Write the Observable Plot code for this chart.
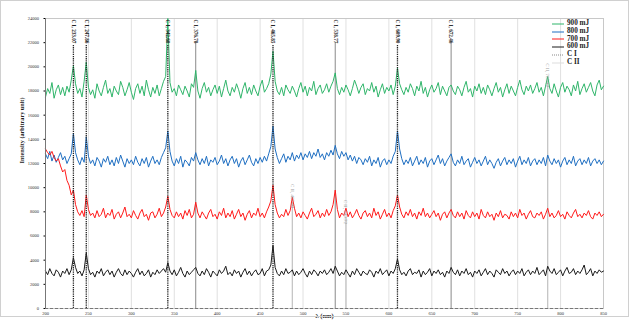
<!DOCTYPE html>
<html><head><meta charset="utf-8">
<script src="https://cdn.jsdelivr.net/npm/d3@7"></script>
<script src="https://cdn.jsdelivr.net/npm/@observablehq/plot@0.6"></script>
<style>
body{margin:0;background:#fff;}
#wrap{position:relative;width:631px;height:322px;overflow:hidden;}
#legend{position:absolute;left:552px;top:20px;font:bold 7.2px "Liberation Serif",serif;color:#222;line-height:7.8px;}
#legend div{display:flex;align-items:center;height:7.8px;}
#legend svg{margin-right:3px;}
</style>
</head><body>
<div id="wrap"><div id="legend"></div></div>
<script>
const xTicks = [200,250,300,350,400,450,500,550,600,650,700,750,800,850];
const yTicks = [0,2000,4000,6000,8000,10000,12000,14000,16000,18000,20000,22000,24000];
// wavelength grid (nm), 2.5 nm step, 261 samples
const wl = d3.range(200, 850.1, 2.5);

const s900 = [17500,18200,17800,18700,17400,18100,18500,17700,18300,17600,
18400,17900,18900,20100,18600,17800,18200,17500,18800,20400,
18300,17700,18100,17400,18600,18000,17600,18300,18900,17800,
18200,17500,18400,18000,17700,18800,18300,17600,18100,18700,
17900,17300,18200,18600,17800,18400,17600,18900,18100,17500,
18300,17800,18500,17600,18200,18800,19200,24000,18700,17900,
18200,17600,18500,18100,17700,18400,18000,17500,18600,18300,
19700,18000,17400,18200,18700,17900,18300,17600,18100,18500,
17800,18400,17500,18200,18900,18000,17600,18300,17900,18600,
18100,17400,18200,18700,17800,18300,17700,18500,18000,17600,
18400,18900,17900,18200,18600,19400,21300,18800,18000,17700,
18300,17600,18500,18100,17800,18400,18000,17500,18200,18700,
17900,18400,17600,18300,18000,18800,17700,18200,18500,17800,
18100,18600,17900,18400,18800,19500,18200,17700,18300,17900,
18500,18100,17600,18200,18900,18400,17800,18300,18600,17700,
18200,18000,18700,17900,18400,17500,18100,18600,17800,18300,
18000,18500,17700,18400,19900,18600,18100,17700,18300,17900,
18600,18200,17600,18400,18000,18800,17800,18300,17500,18100,
18500,17900,18200,18700,17700,18400,18000,17600,18300,18500,
18000,17700,18400,18100,17600,18300,18800,17900,18200,17500,
18400,18000,18600,17800,18300,17700,18500,18100,17600,18200,
18700,17900,18300,17500,18100,18600,17800,18400,18000,17600,
18300,18900,18100,17700,18400,18000,18500,17800,18200,18700,
17900,18300,17600,18400,19200,18200,17800,18600,18000,17500,
18300,18700,17900,18400,18100,17600,18500,18000,18800,17700,
18200,18600,17900,18300,18700,18000,17600,18500,18900,18100,
18400];

const s800 = [12800,12400,13000,12200,12700,12100,12500,12900,12300,12600,
12000,12400,12800,14500,12900,12300,11900,12500,12100,14200,
12600,12000,12300,11800,12500,12200,11700,12400,12100,12600,
11900,12300,11800,12500,12000,12700,12200,11700,12400,12000,
12300,11900,12600,12100,11800,12400,12000,12500,11700,12200,
12600,12000,12300,11900,12500,12900,13300,14700,13000,12200,
11800,12400,12000,12600,11700,12300,12100,11800,12500,12200,
12900,12300,11900,12400,12000,12600,11800,12300,12100,12500,
11900,12200,12700,12000,12400,11800,12300,12600,12000,12400,
11700,12200,12500,11900,12300,12700,12100,11800,12400,12000,
12500,12100,12600,12200,12800,13400,15100,13200,12500,12000,
12400,12800,12100,12600,12300,12900,12200,12700,12400,12900,
12300,12800,12500,13000,12400,12900,12600,13200,12500,12800,
12300,12900,12600,13100,12700,13500,12800,12400,13000,12600,
12900,12300,12700,12200,12600,12000,12500,12300,11900,12400,
12100,12600,11800,12300,12000,12500,11700,12200,12400,11900,
12300,12000,12600,13000,14700,13200,12400,11900,12300,12000,
12500,11800,12200,12600,11900,12300,12000,12500,11700,12200,
12400,11900,12300,12700,12000,12400,11800,12200,12500,12800,
12100,11800,12300,12000,12600,11900,12200,12400,11700,12100,
12500,12000,12300,11800,12200,12600,11900,12300,12000,11600,
12100,12400,11800,12200,12500,11900,12300,12000,12400,11700,
12200,12600,11900,12300,12000,12500,11800,12200,12400,11900,
12300,12000,12500,11800,12700,12200,11900,12400,12000,12300,
11700,12200,12500,11900,12300,12000,12600,11800,12200,12400,
11900,12300,12000,12500,11800,12200,12400,12000,12300,11900,
12200];

const s700 = [13200,12900,12700,13000,12500,12200,12400,11800,11300,11500,
10600,10200,9400,9800,8600,8000,7700,8100,7600,9400,
8200,7700,7900,7500,8100,7600,7800,8300,7500,7900,
7700,8200,7400,7800,8000,7500,7900,8400,7600,7800,
7500,8100,7700,7400,7900,8200,7600,7800,7300,7900,
8000,7500,7800,8300,7600,7900,8400,9300,8200,7700,
7500,8000,7600,7900,7400,8100,7700,8200,7500,7800,
8800,7900,7500,8000,7700,7400,7900,8200,7600,7800,
7400,8000,7700,8300,7500,7900,7600,8100,7400,7800,
8200,7600,7900,7300,7800,8100,7500,7900,7700,8300,
7600,7900,7500,8000,8400,8900,10200,8600,7900,7500,
7800,7600,8200,7700,8100,9200,8300,7600,7900,7500,
8000,7700,7400,7900,8300,7600,7800,8100,7500,7900,
7600,8200,7700,8000,8600,9800,8200,7500,7900,7700,
8300,7600,8000,7500,7800,8200,7700,7400,7900,8100,
7600,7900,7500,8300,7700,8000,7400,7800,8200,7600,
7900,7500,8100,8500,9400,8400,7800,7500,8000,7700,
8200,7600,7900,7400,8000,7700,8300,7600,7900,7500,
7800,8100,7600,7900,7300,7800,8000,7500,7900,8200,
7700,7500,8000,7600,7900,7400,8100,7700,7500,8000,
7600,7900,7400,8200,7700,7500,8000,7600,7800,7300,
7900,7600,8100,7500,7800,7700,7400,8000,7600,7900,
7500,8200,7700,7900,7400,7800,8100,7600,7500,7900,
7700,8000,7400,7800,8300,7600,7900,7500,7700,8100,
7600,7800,7400,8000,7700,7500,7900,8200,7600,7800,
7500,7900,7700,8100,7600,7400,7900,7700,8000,7600,
7800];

const s600 = [3100,2800,3300,2900,2700,3200,3000,2600,3100,2900,
3300,2800,3200,4200,3400,2900,3100,2700,3200,4600,
3300,2800,3000,2600,3100,2900,3300,2700,3000,3200,
2800,3100,2600,3000,3300,2900,2700,3200,2800,3100,
2900,2600,3000,3300,2800,3100,2700,2900,3200,2600,
3000,2800,3200,2900,3100,3300,3000,3800,3100,2800,
3200,2700,3000,3400,2900,2600,3100,2800,3000,3200,
3400,2900,2700,3100,2800,3300,3000,2600,3100,2900,
2700,3200,2900,3100,3500,2800,3000,2700,3200,2900,
3100,2600,3000,3300,2800,3100,2700,3000,3200,2800,
2900,3300,2700,3100,3200,3600,5200,3400,2900,2700,
3100,2800,3300,2900,3000,3200,2700,3100,2800,3000,
3300,2900,2600,3100,2800,3200,3000,2700,3100,2900,
3200,2800,3000,3300,2900,3500,3100,2700,3000,2800,
3200,2900,2600,3100,2800,3300,3000,2700,3100,2900,
2800,3200,3000,2600,3100,2900,3300,2800,3000,3200,
2700,3100,2900,3300,4100,3200,2800,3000,2700,3100,
3300,2800,3000,2900,3200,2600,3100,2800,3000,3300,
2700,3100,2900,3200,2800,3000,2600,3100,2900,3400,
3000,2800,3200,2700,3100,2900,3300,2800,3000,2600,
3100,2900,3200,2700,3000,3300,2800,3100,2900,2600,
3200,3000,2800,3300,2900,3100,2700,3000,3200,2800,
3100,2900,3300,2700,3000,3200,2800,3100,2900,3400,
2800,3000,3200,2700,3500,3100,2900,3300,2800,3000,
3200,2700,3100,3400,2900,3000,3300,2800,3100,2900,
3200,3600,2800,3000,3300,2700,3100,2900,3200,3000,
3100];

const seriesNames = ["900 mJ","800 mJ","700 mJ","600 mJ"];
const seriesColors = ["#2fb56a","#1f6fc2","#ff1a1a","#1a1a1a"];
const seriesValues = [s900,s800,s700,s600];

// emission lines
const dashWl = [232.5,247.5,342.5,465,610];
const dashLabels = ["C I, 233.07","C I, 247.86","C I, 342.60","C I, 465.85","C I, 609.90"];
const solidWl = [375,537.5,672.5];
const solidLabels = ["C I, 376.78","C I, 538.77","C I, 672.46"];
const shortWl = [487.5,550,785];
const shortTop = [10300,9000,20300];
const shortLabels = ["C II, 487.93","C II, 549.72","C II, 785.12"];

const rows = [];
seriesValues.forEach((vals, k) => vals.forEach((v, i) => rows.push({wl: wl[i], v, name: seriesNames[k]})));
const dashRows = dashWl.map((w,i)=>({wl:w, label:dashLabels[i]}));
const solidRows = solidWl.map((w,i)=>({wl:w, label:solidLabels[i]}));
const shortRows = shortWl.map((w,i)=>({wl:w, top:shortTop[i], label:shortLabels[i]}));

const marks = [
  Plot.gridX(xTicks, {stroke:"#d8d8d8", strokeOpacity:1, strokeWidth:0.8}),
  Plot.frame({stroke:"#c8c8c8"}),
  Plot.ruleX(shortRows, {x:"wl", y1:0, y2:d=>d.top-1500, stroke:"#c0c0c0", strokeWidth:1.2}),
  Plot.ruleX(solidRows, {x:"wl", y1:0, y2:22000, stroke:"#8a8a8a", strokeWidth:1})
];
seriesNames.forEach((n,k)=>{
  marks.push(Plot.line(rows.filter(r=>r.name===n), {x:"wl", y:"v", stroke:seriesColors[k], strokeWidth:1}));
});
marks.push(
  Plot.ruleX(dashRows, {x:"wl", y1:0, y2:21800, stroke:"#222", strokeWidth:1.3, strokeDasharray:"1.3,0.9"}),
  Plot.text(dashRows, {x:"wl", y:24000, text:"label", rotate:90, textAnchor:"start", dy:1, fontSize:5.2, fontWeight:"bold", fill:"#222"}),
  Plot.text(solidRows, {x:"wl", y:24000, text:"label", rotate:90, textAnchor:"start", dy:1, fontSize:5.2, fontWeight:"bold", fill:"#333"}),
  Plot.text(shortRows, {x:"wl", y:"top", text:"label", rotate:90, textAnchor:"start", fontSize:5, fill:"#9a9a9a"}),
  Plot.ruleX([200], {stroke:"#777"}),
  Plot.ruleY([0], {stroke:"#777", strokeDasharray:"3,2"}),
  Plot.axisY(yTicks, {tickSize:1.5, tickPadding:5, fontSize:4.5, fill:"#333", label:null, tickFormat:d=>String(d)}),
  Plot.axisX(xTicks, {tickSize:0, tickPadding:3, fontSize:4.5, fill:"#333", label:null, tickFormat:d=>String(d)}),
  Plot.text(["Intensity (arbitrary unit)"], {frameAnchor:"left", dx:-23, rotate:-90, fontSize:6.2, fontWeight:"bold", fill:"#222"}),
  Plot.text(["λ (nm)"], {frameAnchor:"bottom", dy:9, fontSize:6.5, fontWeight:"bold", fill:"#222"})
);

const chart = Plot.plot({
  width:631, height:322,
  marginLeft:45, marginRight:28, marginTop:18, marginBottom:14,
  x:{domain:[200,850]},
  y:{domain:[0,24000]},
  style:{fontFamily:"'Liberation Serif', serif", background:"white", overflow:"visible"},
  marks
});
d3.select(chart).append("rect").attr("x",0.5).attr("y",0.5).attr("width",628).attr("height",316)
  .attr("fill","none").attr("stroke","#d0d0d0");
document.getElementById("wrap").prepend(chart);

// legend
const legItems = seriesNames.map((n,k)=>({name:n, color:seriesColors[k], dash:null}))
  .concat([{name:"C I", color:"#888", dash:"1,1"},{name:"C II", color:"#ddd", dash:null}]);
const leg = document.getElementById("legend");
legItems.forEach(it=>{
  const row = document.createElement("div");
  row.innerHTML = `<svg width="12" height="4"><line x1="0" y1="2" x2="12" y2="2" stroke="${it.color}" stroke-width="1" ${it.dash?`stroke-dasharray="${it.dash}"`:""}/></svg><span>${it.name}</span>`;
  leg.appendChild(row);
});
</script>
</body></html>
